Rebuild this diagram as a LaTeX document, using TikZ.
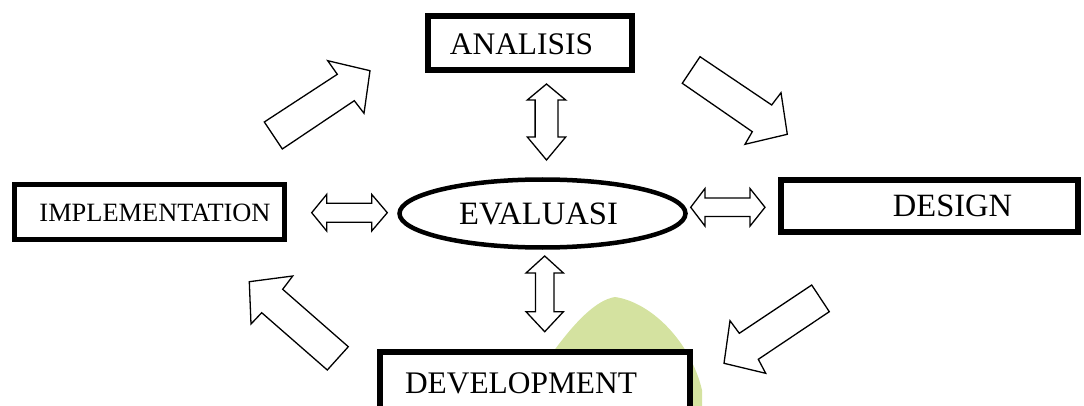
\documentclass[tikz,border=0pt]{standalone}
\usepackage{fontspec}
\setmainfont{Liberation Serif}
\usetikzlibrary{shapes.geometric}
\definecolor{wmgreen}{RGB}{212,226,160}
\tikzset{
  box/.style={draw=black, fill=white, rectangle, inner sep=0pt, outer sep=0pt},
  lbl/.style={anchor=base, inner sep=0pt, text=black},
  blockarrow/.style={draw=black, fill=white, line width=1.3pt, line join=miter}
}
\begin{document}
\begin{tikzpicture}[x=1pt,y=-1pt]
\useasboundingbox (0,0) rectangle (1084,406);
\clip (0,0) rectangle (1084,406);
% watermark
\fill[wmgreen] (553,352) .. controls (575,322) and (596,300) .. (615,297)
  .. controls (650,302) and (690,340) .. (702,390) -- (702,406) -- (553,406) -- cycle;
% boxes
\node[box, line width=6pt, minimum width=204pt, minimum height=54pt] (analisis) at (530,43) {};
\node[lbl, font=\fontsize{31.4}{36}\selectfont] (analisisT) at (521.5,55) {ANALISIS};
\node[box, line width=5pt, minimum width=270pt, minimum height=55pt] (impl) at (149.5,212) {};
\node[lbl, font=\fontsize{26.4}{30}\selectfont] (implT) at (155,222) {IMPLEMENTATION};
\node[box, line width=6pt, minimum width=297pt, minimum height=52pt] (design) at (929.5,206) {};
\node[lbl, font=\fontsize{32.5}{36}\selectfont] (designT) at (952.5,217) {DESIGN};
\node[box, line width=6pt, minimum width=310pt, minimum height=80pt] (devel) at (535,392.3) {};
\node[lbl, font=\fontsize{31.4}{36}\selectfont] (develT) at (521,393) {DEVELOPMENT};
\node[box, ellipse, line width=4.5pt, minimum width=286pt, minimum height=68pt] (eval) at (542.5,213.5) {};
\node[lbl, font=\fontsize{32.6}{36}\selectfont] (evalT) at (538.5,225) {EVALUASI};
% double arrows (vertical)
\draw[blockarrow] (546.5,84) -- (565.7,100) -- (557.9,100) -- (557.9,137) -- (565.7,137)
  -- (546.5,160) -- (527.3,137) -- (535.1,137) -- (535.1,100) -- (527.3,100) -- cycle;
\draw[blockarrow] (544.7,256) -- (563.4,273) -- (553.9,273) -- (553.9,311.7) -- (563.4,311.7)
  -- (544.7,331.7) -- (526,311.7) -- (535.5,311.7) -- (535.5,273) -- (526,273) -- cycle;
% double arrows (horizontal)
\draw[blockarrow] (311.7,212.7) -- (326.7,194.4) -- (326.7,203.2) -- (371.7,203.2) -- (371.7,194.4)
  -- (387.3,212.7) -- (371.7,231) -- (371.7,222.2) -- (326.7,222.2) -- (326.7,231) -- cycle;
\draw[blockarrow] (690.7,207.3) -- (705,188.5) -- (705,198.1) -- (750,198.1) -- (750,188.5)
  -- (765,207.3) -- (750,226.1) -- (750,216.5) -- (705,216.5) -- (705,226.1) -- cycle;
% diagonal arrows
\draw[blockarrow] (264.3,122) -- (282.3,149) -- (354.3,100.7) -- (364,113.3) -- (370,70.7)
  -- (327.7,60.7) -- (337.3,74.3) -- cycle;
\draw[blockarrow] (700,56.7) -- (682.3,83.3) -- (752.3,131.7) -- (745,144.3) -- (787.3,134.3)
  -- (781,92.7) -- (771.7,105) -- cycle;
\draw[blockarrow] (249.3,281.7) -- (292.7,276) -- (282.7,289.3) -- (348.3,346.7) -- (327.3,370)
  -- (261.7,312.7) -- (251,324) -- cycle;
\draw[blockarrow] (811.7,285) -- (829.3,311.7) -- (758.3,359.3) -- (765.7,373.3) -- (724,363.3)
  -- (730,320.7) -- (739.3,333.3) -- cycle;
\end{tikzpicture}
\end{document}
